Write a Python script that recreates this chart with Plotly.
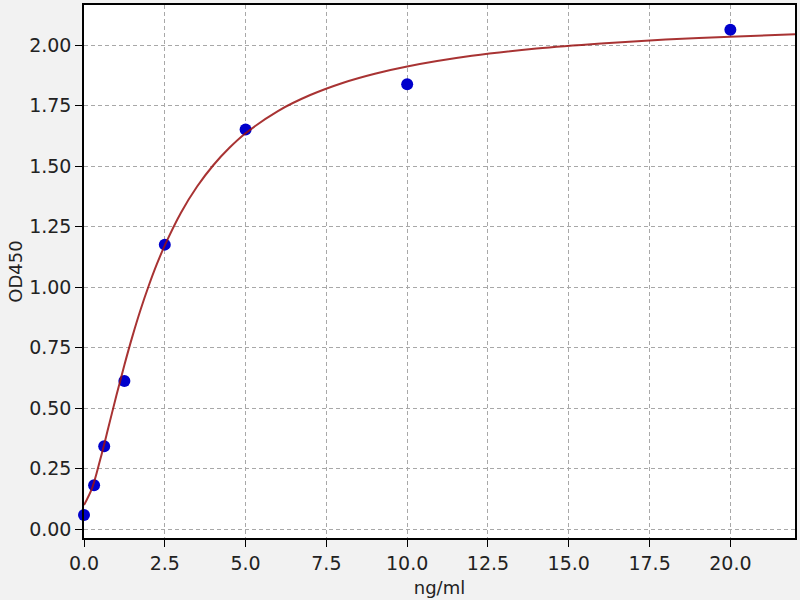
import plotly.graph_objects as go

# standards (ng/ml) and measured OD450
conc = [0, 0.3125, 0.625, 1.25, 2.5, 5, 10, 20]
od = [0.059, 0.182, 0.343, 0.613, 1.176, 1.652, 1.839, 2.064]

# fitted curve
fit_x = [0, 0.25, 0.5, 0.75, 1.0, 1.25, 1.5, 1.75, 2.0, 2.25, 2.5,
         3.0, 3.5, 4.0, 4.5, 5.0, 6.0, 7.0, 8.0, 9.0, 10.0,
         12.0, 14.0, 16.0, 18.0, 20.0, 22.0]
fit_y = [0.100, 0.170, 0.287, 0.418, 0.552, 0.679, 0.798, 0.907, 1.005, 1.094, 1.173,
         1.308, 1.416, 1.504, 1.576, 1.636, 1.728, 1.794, 1.844, 1.882, 1.912,
         1.956, 1.986, 2.007, 2.023, 2.035, 2.045]

fig = go.Figure()
fig.add_trace(go.Scatter(
    x=conc, y=od, mode="markers",
    marker=dict(color="#0000cc", size=12, line=dict(width=0)),
    showlegend=False, cliponaxis=False
))
fig.add_trace(go.Scatter(
    x=fit_x, y=fit_y, mode="lines",
    line=dict(color="#9a1010", width=2, shape="spline", smoothing=1),
    opacity=0.85, showlegend=False
))

axis_common = dict(
    showline=True, linecolor="black", linewidth=1.5, mirror=True,
    ticks="outside", ticklen=7, tickwidth=1.2, tickcolor="black",
    showgrid=True, gridcolor="#a8a8a8", griddash="4px,3px", gridwidth=1,
    zeroline=False,
    tickfont=dict(family="DejaVu Sans", size=19, color="#222"),
)

fig.update_xaxes(range=[0, 22], dtick=2.5, tick0=0, tickformat=".1f",
                 title=dict(text="ng/ml", standoff=9,
                            font=dict(family="DejaVu Sans", size=18, color="#222")),
                 **axis_common)
fig.update_yaxes(range=[-0.036, 2.166], dtick=0.25, tick0=0, tickformat=".2f",
                 title=dict(text="OD450", standoff=2,
                            font=dict(family="DejaVu Sans", size=18, color="#222")),
                 **axis_common)

fig.update_layout(
    width=800, height=600,
    margin=dict(l=84, r=3, t=3, b=62),
    paper_bgcolor="#f2f2f2", plot_bgcolor="white",
)

fig.write_html("out.html", config={"displayModeBar": False},
               post_script="document.body.style.margin='0';"
                           "document.body.style.overflow='hidden';")
